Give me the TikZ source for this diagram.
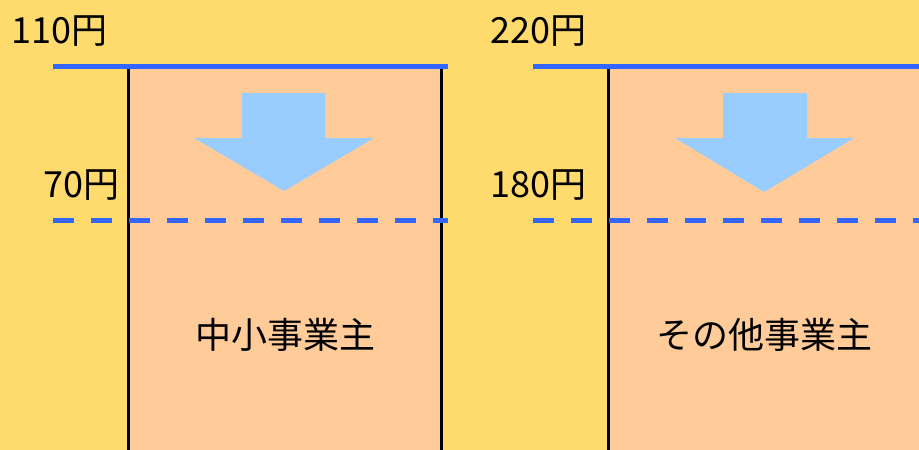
\documentclass[tikz,border=0pt]{standalone}
\usepackage{fontspec}
\setmainfont{Noto Sans CJK JP}
\begin{document}
\begin{tikzpicture}[x=1pt,y=-1pt,
  bg/.style={fill=bgyellow},
  panel/.style={fill=peach},
  side/.style={line width=3pt,black},
  levelline/.style={line width=5pt,lineblue},
  dashline/.style={line width=5pt,lineblue,dash pattern=on 21.3pt off 16.7pt},
  downarrow/.style={fill=arrowblue},
  price/.style={font=\fontsize{36}{40}\selectfont,inner sep=0pt,anchor=base west},
  caption/.style={font=\fontsize{36}{40}\selectfont,inner sep=0pt}]
\definecolor{bgyellow}{HTML}{FFDB6E}
\definecolor{peach}{HTML}{FFCC99}
\definecolor{lineblue}{HTML}{3366FF}
\definecolor{arrowblue}{HTML}{99CCFF}
\useasboundingbox (0,0) rectangle (919,450);
\fill[bg] (0,0) rectangle (919,450);
% panels
\fill[panel] (128,66) rectangle (442,450);
\fill[panel] (608,66) rectangle (919,450);
% arrows
\fill[downarrow] (242,93) -- (325,93) -- (325,138) -- (374,138) -- (284,191) -- (194,138) -- (242,138) -- cycle;
\fill[downarrow] (723,93) -- (807,93) -- (807,138) -- (854,138) -- (764,192) -- (675,138) -- (723,138) -- cycle;
% sides
\coordinate (l1t) at (128.5,68); \coordinate (l1b) at (128.5,450);
\coordinate (r1t) at (441.5,68); \coordinate (r1b) at (441.5,450);
\coordinate (l2t) at (608,68); \coordinate (l2b) at (608,450);
\draw[side] (l1t) -- (l1b);
\draw[side] (r1t) -- (r1b);
\draw[side] (l2t) -- (l2b);
% level lines
\coordinate (a1) at (53,66); \coordinate (a2) at (448,66);
\coordinate (b1) at (533,66); \coordinate (b2) at (919,66);
\draw[levelline] (a1) -- (a2);
\draw[levelline] (b1) -- (b2);
\coordinate (c1) at (53,220); \coordinate (c2) at (448,220);
\coordinate (d1) at (533,220); \coordinate (d2) at (919,220);
\draw[dashline] (c1) -- (c2);
\draw[dashline] (d1) -- (d2);
% labels
\node[price] (p110) at (11,43) {110円};
\node[price] (p70) at (43,197) {70円};
\node[price] (p220) at (490,43) {220円};
\node[price] (p180) at (490,197) {180円};
\node[caption] (t1) at (285,335) {中小事業主};
\node[caption] (t2) at (764,335) {その他事業主};
\end{tikzpicture}
\end{document}
